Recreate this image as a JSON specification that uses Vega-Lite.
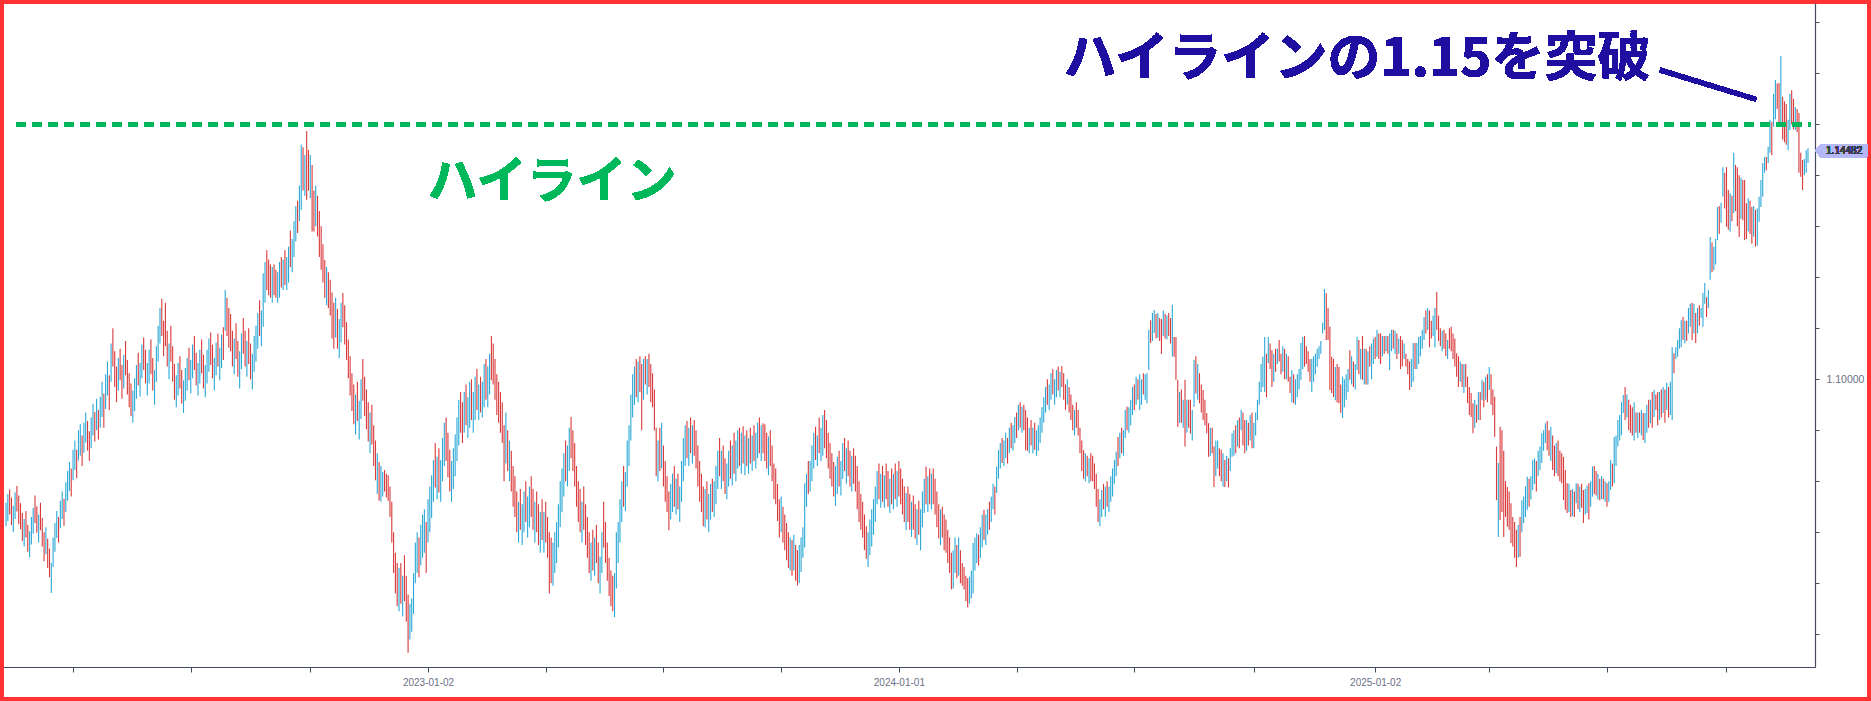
{
"$schema":"https://vega.github.io/schema/vega-lite/v6.json",
"width":1871,"height":701,"autosize":"none","padding":0,"background":"white",
"config":{"view":{"stroke":"#ff3333","strokeWidth":8,"fill":"white"},"axis":{"grid":false}},
"data":{"values":[
{"i":0,"h":1.0758,"l":1.0712,"u":1},{"i":1,"h":1.0775,"l":1.0722,"u":1},{"i":2,"h":1.0784,"l":1.0735,"u":0},{"i":3,"h":1.0768,"l":1.0714,"u":0},{"i":4,"h":1.0752,"l":1.0700,"u":1},{"i":5,"h":1.0778,"l":1.0726,"u":1},{"i":6,"h":1.0791,"l":1.0741,"u":0},{"i":7,"h":1.0772,"l":1.0716,"u":0},{"i":8,"h":1.0757,"l":1.0706,"u":0},{"i":9,"h":1.0738,"l":1.0683,"u":0},
{"i":10,"h":1.0726,"l":1.0672,"u":1},{"i":11,"h":1.0742,"l":1.0690,"u":0},{"i":12,"h":1.0715,"l":1.0662,"u":0},{"i":13,"h":1.0702,"l":1.0651,"u":1},{"i":14,"h":1.0730,"l":1.0676,"u":1},{"i":15,"h":1.0748,"l":1.0697,"u":1},{"i":16,"h":1.0772,"l":1.0718,"u":0},{"i":17,"h":1.0751,"l":1.0699,"u":0},{"i":18,"h":1.0735,"l":1.0680,"u":1},{"i":19,"h":1.0758,"l":1.0704,"u":0},
{"i":20,"h":1.0728,"l":1.0672,"u":0},{"i":21,"h":1.0700,"l":1.0643,"u":0},{"i":22,"h":1.0710,"l":1.0657,"u":1},{"i":23,"h":1.0688,"l":1.0630,"u":0},{"i":24,"h":1.0668,"l":1.0612,"u":0},{"i":25,"h":1.0640,"l":1.0581,"u":1},{"i":26,"h":1.0690,"l":1.0632,"u":1},{"i":27,"h":1.0718,"l":1.0662,"u":1},{"i":28,"h":1.0742,"l":1.0689,"u":1},{"i":29,"h":1.0730,"l":1.0680,"u":0},
{"i":30,"h":1.0762,"l":1.0708,"u":1},{"i":31,"h":1.0780,"l":1.0726,"u":1},{"i":32,"h":1.0766,"l":1.0713,"u":0},{"i":33,"h":1.0798,"l":1.0740,"u":1},{"i":34,"h":1.0820,"l":1.0762,"u":1},{"i":35,"h":1.0838,"l":1.0781,"u":1},{"i":36,"h":1.0825,"l":1.0770,"u":0},{"i":37,"h":1.0862,"l":1.0802,"u":1},{"i":38,"h":1.0880,"l":1.0822,"u":1},{"i":39,"h":1.0862,"l":1.0806,"u":0},
{"i":40,"h":1.0900,"l":1.0841,"u":1},{"i":41,"h":1.0912,"l":1.0850,"u":1},{"i":42,"h":1.0890,"l":1.0830,"u":0},{"i":43,"h":1.0915,"l":1.0856,"u":1},{"i":44,"h":1.0935,"l":1.0876,"u":1},{"i":45,"h":1.0918,"l":1.0860,"u":0},{"i":46,"h":1.0898,"l":1.0840,"u":0},{"i":47,"h":1.0925,"l":1.0865,"u":1},{"i":48,"h":1.0952,"l":1.0890,"u":1},{"i":49,"h":1.0936,"l":1.0878,"u":0},
{"i":50,"h":1.0962,"l":1.0900,"u":1},{"i":51,"h":1.0940,"l":1.0882,"u":0},{"i":52,"h":1.0966,"l":1.0905,"u":1},{"i":53,"h":1.0995,"l":1.0926,"u":1},{"i":54,"h":1.0972,"l":1.0905,"u":0},{"i":55,"h":1.1010,"l":1.0942,"u":1},{"i":56,"h":1.1035,"l":1.0968,"u":1},{"i":57,"h":1.1008,"l":1.0940,"u":0},{"i":58,"h":1.1070,"l":1.0995,"u":1},{"i":59,"h":1.1100,"l":1.1025,"u":0},
{"i":60,"h":1.1055,"l":1.0985,"u":0},{"i":61,"h":1.1025,"l":1.0955,"u":0},{"i":62,"h":1.1042,"l":1.0978,"u":1},{"i":63,"h":1.1060,"l":1.0998,"u":0},{"i":64,"h":1.1028,"l":1.0962,"u":0},{"i":65,"h":1.1048,"l":1.0982,"u":1},{"i":66,"h":1.1075,"l":1.1008,"u":0},{"i":67,"h":1.1038,"l":1.0970,"u":0},{"i":68,"h":1.1012,"l":1.0945,"u":0},{"i":69,"h":1.0992,"l":1.0928,"u":0},
{"i":70,"h":1.0978,"l":1.0915,"u":1},{"i":71,"h":1.1002,"l":1.0938,"u":1},{"i":72,"h":1.1028,"l":1.0962,"u":1},{"i":73,"h":1.1052,"l":1.0988,"u":0},{"i":74,"h":1.1032,"l":1.0966,"u":1},{"i":75,"h":1.1068,"l":1.1002,"u":1},{"i":76,"h":1.1082,"l":1.1018,"u":0},{"i":77,"h":1.1058,"l":1.0992,"u":0},{"i":78,"h":1.1032,"l":1.0968,"u":1},{"i":79,"h":1.1058,"l":1.0992,"u":1},
{"i":80,"h":1.1078,"l":1.1010,"u":0},{"i":81,"h":1.1042,"l":1.0978,"u":0},{"i":82,"h":1.1018,"l":1.0950,"u":1},{"i":83,"h":1.1065,"l":1.0995,"u":1},{"i":84,"h":1.1105,"l":1.1035,"u":1},{"i":85,"h":1.1140,"l":1.1070,"u":1},{"i":86,"h":1.1158,"l":1.1085,"u":0},{"i":87,"h":1.1115,"l":1.1045,"u":0},{"i":88,"h":1.1150,"l":1.1065,"u":0},{"i":89,"h":1.1095,"l":1.1025,"u":0},
{"i":90,"h":1.1070,"l":1.1000,"u":1},{"i":91,"h":1.1105,"l":1.1035,"u":0},{"i":92,"h":1.1065,"l":1.0995,"u":0},{"i":93,"h":1.1030,"l":1.0960,"u":0},{"i":94,"h":1.1008,"l":1.0945,"u":1},{"i":95,"h":1.1032,"l":1.0968,"u":1},{"i":96,"h":1.1045,"l":1.0982,"u":0},{"i":97,"h":1.1018,"l":1.0952,"u":0},{"i":98,"h":1.0998,"l":1.0934,"u":1},{"i":99,"h":1.1022,"l":1.0958,"u":1},
{"i":100,"h":1.1042,"l":1.0978,"u":1},{"i":101,"h":1.1062,"l":1.0998,"u":0},{"i":102,"h":1.1038,"l":1.0972,"u":1},{"i":103,"h":1.1068,"l":1.1002,"u":1},{"i":104,"h":1.1085,"l":1.1018,"u":0},{"i":105,"h":1.1052,"l":1.0988,"u":0},{"i":106,"h":1.1032,"l":1.0968,"u":1},{"i":107,"h":1.1058,"l":1.0992,"u":1},{"i":108,"h":1.1078,"l":1.1012,"u":0},{"i":109,"h":1.1048,"l":1.0982,"u":0},
{"i":110,"h":1.1028,"l":1.0965,"u":1},{"i":111,"h":1.1058,"l":1.0992,"u":1},{"i":112,"h":1.1080,"l":1.1015,"u":1},{"i":113,"h":1.1092,"l":1.1028,"u":0},{"i":114,"h":1.1068,"l":1.1002,"u":0},{"i":115,"h":1.1042,"l":1.0978,"u":1},{"i":116,"h":1.1072,"l":1.1008,"u":1},{"i":117,"h":1.1090,"l":1.1025,"u":0},{"i":118,"h":1.1062,"l":1.0998,"u":1},{"i":119,"h":1.1088,"l":1.1022,"u":1},
{"i":120,"h":1.1102,"l":1.1038,"u":0},{"i":121,"h":1.1175,"l":1.1095,"u":1},{"i":122,"h":1.1160,"l":1.1085,"u":0},{"i":123,"h":1.1140,"l":1.1062,"u":0},{"i":124,"h":1.1128,"l":1.1055,"u":0},{"i":125,"h":1.1095,"l":1.1025,"u":0},{"i":126,"h":1.1080,"l":1.1010,"u":1},{"i":127,"h":1.1110,"l":1.1040,"u":0},{"i":128,"h":1.1075,"l":1.1005,"u":0},{"i":129,"h":1.1055,"l":1.0982,"u":1},
{"i":130,"h":1.1090,"l":1.1020,"u":1},{"i":131,"h":1.1120,"l":1.1050,"u":0},{"i":132,"h":1.1095,"l":1.1025,"u":0},{"i":133,"h":1.1075,"l":1.1005,"u":1},{"i":134,"h":1.1100,"l":1.1030,"u":0},{"i":135,"h":1.1070,"l":1.1000,"u":0},{"i":136,"h":1.1050,"l":1.0980,"u":1},{"i":137,"h":1.1085,"l":1.1015,"u":1},{"i":138,"h":1.1105,"l":1.1035,"u":1},{"i":139,"h":1.1130,"l":1.1060,"u":1},
{"i":140,"h":1.1155,"l":1.1085,"u":0},{"i":141,"h":1.1135,"l":1.1065,"u":1},{"i":142,"h":1.1208,"l":1.1103,"u":1},{"i":143,"h":1.1230,"l":1.1150,"u":1},{"i":144,"h":1.1253,"l":1.1175,"u":0},{"i":145,"h":1.1235,"l":1.1165,"u":0},{"i":146,"h":1.1225,"l":1.1160,"u":0},{"i":147,"h":1.1220,"l":1.1150,"u":1},{"i":148,"h":1.1225,"l":1.1165,"u":0},{"i":149,"h":1.1215,"l":1.1160,"u":0},
{"i":150,"h":1.1210,"l":1.1150,"u":1},{"i":151,"h":1.1230,"l":1.1160,"u":1},{"i":152,"h":1.1240,"l":1.1180,"u":0},{"i":153,"h":1.1235,"l":1.1175,"u":1},{"i":154,"h":1.1253,"l":1.1185,"u":0},{"i":155,"h":1.1240,"l":1.1175,"u":1},{"i":156,"h":1.1260,"l":1.1190,"u":1},{"i":157,"h":1.1292,"l":1.1220,"u":0},{"i":158,"h":1.1275,"l":1.1210,"u":1},{"i":159,"h":1.1310,"l":1.1240,"u":1},
{"i":160,"h":1.1340,"l":1.1270,"u":1},{"i":161,"h":1.1350,"l":1.1287,"u":0},{"i":162,"h":1.1380,"l":1.1310,"u":1},{"i":163,"h":1.1460,"l":1.1332,"u":1},{"i":164,"h":1.1455,"l":1.1370,"u":0},{"i":165,"h":1.1440,"l":1.1360,"u":1},{"i":166,"h":1.1487,"l":1.1352,"u":0},{"i":167,"h":1.1450,"l":1.1370,"u":0},{"i":168,"h":1.1440,"l":1.1355,"u":1},{"i":169,"h":1.1420,"l":1.1290,"u":0},
{"i":170,"h":1.1370,"l":1.1290,"u":0},{"i":171,"h":1.1380,"l":1.1300,"u":1},{"i":172,"h":1.1360,"l":1.1280,"u":0},{"i":173,"h":1.1330,"l":1.1240,"u":0},{"i":174,"h":1.1300,"l":1.1215,"u":0},{"i":175,"h":1.1265,"l":1.1190,"u":0},{"i":176,"h":1.1234,"l":1.1160,"u":0},{"i":177,"h":1.1220,"l":1.1145,"u":1},{"i":178,"h":1.1210,"l":1.1140,"u":0},{"i":179,"h":1.1195,"l":1.1125,"u":0},
{"i":180,"h":1.1170,"l":1.1080,"u":0},{"i":181,"h":1.1150,"l":1.1060,"u":0},{"i":182,"h":1.1160,"l":1.1082,"u":1},{"i":183,"h":1.1138,"l":1.1060,"u":0},{"i":184,"h":1.1118,"l":1.1042,"u":1},{"i":185,"h":1.1150,"l":1.1072,"u":1},{"i":186,"h":1.1169,"l":1.1102,"u":0},{"i":187,"h":1.1145,"l":1.1068,"u":0},{"i":188,"h":1.1112,"l":1.1038,"u":0},{"i":189,"h":1.1078,"l":1.1002,"u":0},
{"i":190,"h":1.1045,"l":1.0968,"u":0},{"i":191,"h":1.1012,"l":1.0938,"u":0},{"i":192,"h":1.0990,"l":1.0912,"u":0},{"i":193,"h":1.0970,"l":1.0892,"u":1},{"i":194,"h":1.0995,"l":1.0918,"u":0},{"i":195,"h":1.0958,"l":1.0882,"u":1},{"i":196,"h":1.1000,"l":1.0922,"u":1},{"i":197,"h":1.1040,"l":1.0958,"u":0},{"i":198,"h":1.1005,"l":1.0928,"u":0},{"i":199,"h":1.0980,"l":1.0902,"u":0},
{"i":200,"h":1.0955,"l":1.0878,"u":0},{"i":201,"h":1.0935,"l":1.0855,"u":1},{"i":202,"h":1.0950,"l":1.0872,"u":0},{"i":203,"h":1.0910,"l":1.0830,"u":0},{"i":204,"h":1.0880,"l":1.0802,"u":0},{"i":205,"h":1.0855,"l":1.0775,"u":1},{"i":206,"h":1.0838,"l":1.0762,"u":0},{"i":207,"h":1.0830,"l":1.0760,"u":1},{"i":208,"h":1.0818,"l":1.0770,"u":1},{"i":209,"h":1.0822,"l":1.0780,"u":0},
{"i":210,"h":1.0815,"l":1.0768,"u":0},{"i":211,"h":1.0812,"l":1.0762,"u":0},{"i":212,"h":1.0790,"l":1.0730,"u":0},{"i":213,"h":1.0760,"l":1.0680,"u":0},{"i":214,"h":1.0700,"l":1.0620,"u":0},{"i":215,"h":1.0660,"l":1.0580,"u":0},{"i":216,"h":1.0640,"l":1.0555,"u":0},{"i":217,"h":1.0630,"l":1.0545,"u":1},{"i":218,"h":1.0640,"l":1.0560,"u":0},{"i":219,"h":1.0615,"l":1.0535,"u":1},
{"i":220,"h":1.0655,"l":1.0565,"u":0},{"i":221,"h":1.0615,"l":1.0525,"u":0},{"i":222,"h":1.0578,"l":1.0464,"u":0},{"i":223,"h":1.0560,"l":1.0490,"u":1},{"i":224,"h":1.0570,"l":1.0505,"u":1},{"i":225,"h":1.0620,"l":1.0540,"u":1},{"i":226,"h":1.0680,"l":1.0600,"u":1},{"i":227,"h":1.0700,"l":1.0620,"u":1},{"i":228,"h":1.0690,"l":1.0612,"u":0},{"i":229,"h":1.0715,"l":1.0635,"u":1},
{"i":230,"h":1.0735,"l":1.0650,"u":1},{"i":231,"h":1.0745,"l":1.0660,"u":1},{"i":232,"h":1.0720,"l":1.0620,"u":0},{"i":233,"h":1.0765,"l":1.0680,"u":1},{"i":234,"h":1.0790,"l":1.0700,"u":1},{"i":235,"h":1.0812,"l":1.0728,"u":1},{"i":236,"h":1.0842,"l":1.0760,"u":1},{"i":237,"h":1.0875,"l":1.0788,"u":0},{"i":238,"h":1.0848,"l":1.0765,"u":1},{"i":239,"h":1.0865,"l":1.0778,"u":0},
{"i":240,"h":1.0842,"l":1.0760,"u":1},{"i":241,"h":1.0885,"l":1.0800,"u":1},{"i":242,"h":1.0915,"l":1.0830,"u":1},{"i":243,"h":1.0925,"l":1.0840,"u":0},{"i":244,"h":1.0895,"l":1.0808,"u":0},{"i":245,"h":1.0862,"l":1.0780,"u":0},{"i":246,"h":1.0840,"l":1.0760,"u":1},{"i":247,"h":1.0865,"l":1.0785,"u":1},{"i":248,"h":1.0892,"l":1.0810,"u":1},{"i":249,"h":1.0925,"l":1.0840,"u":1},
{"i":250,"h":1.0960,"l":1.0870,"u":1},{"i":251,"h":1.0975,"l":1.0895,"u":0},{"i":252,"h":1.0955,"l":1.0875,"u":0},{"i":253,"h":1.0975,"l":1.0895,"u":1},{"i":254,"h":1.0990,"l":1.0910,"u":0},{"i":255,"h":1.0965,"l":1.0885,"u":1},{"i":256,"h":1.0995,"l":1.0905,"u":1},{"i":257,"h":1.1000,"l":1.0920,"u":0},{"i":258,"h":1.0975,"l":1.0895,"u":1},{"i":259,"h":1.1005,"l":1.0920,"u":1},
{"i":260,"h":1.1020,"l":1.0940,"u":0},{"i":261,"h":1.0990,"l":1.0920,"u":1},{"i":262,"h":1.1005,"l":1.0935,"u":0},{"i":263,"h":1.0995,"l":1.0925,"u":1},{"i":264,"h":1.1030,"l":1.0945,"u":1},{"i":265,"h":1.1040,"l":1.0960,"u":0},{"i":266,"h":1.1025,"l":1.0945,"u":1},{"i":267,"h":1.1050,"l":1.0970,"u":1},{"i":268,"h":1.1085,"l":1.0998,"u":0},{"i":269,"h":1.1070,"l":1.0990,"u":0},
{"i":270,"h":1.1040,"l":1.0960,"u":0},{"i":271,"h":1.1010,"l":1.0930,"u":0},{"i":272,"h":1.0995,"l":1.0915,"u":0},{"i":273,"h":1.0975,"l":1.0895,"u":0},{"i":274,"h":1.0955,"l":1.0875,"u":0},{"i":275,"h":1.0910,"l":1.0800,"u":0},{"i":276,"h":1.0935,"l":1.0835,"u":1},{"i":277,"h":1.0900,"l":1.0820,"u":0},{"i":278,"h":1.0880,"l":1.0800,"u":1},{"i":279,"h":1.0860,"l":1.0780,"u":0},
{"i":280,"h":1.0830,"l":1.0750,"u":0},{"i":281,"h":1.0810,"l":1.0730,"u":0},{"i":282,"h":1.0780,"l":1.0700,"u":0},{"i":283,"h":1.0760,"l":1.0680,"u":1},{"i":284,"h":1.0785,"l":1.0705,"u":0},{"i":285,"h":1.0755,"l":1.0675,"u":1},{"i":286,"h":1.0780,"l":1.0700,"u":1},{"i":287,"h":1.0800,"l":1.0720,"u":0},{"i":288,"h":1.0770,"l":1.0690,"u":1},{"i":289,"h":1.0790,"l":1.0710,"u":1},
{"i":290,"h":1.0810,"l":1.0730,"u":0},{"i":291,"h":1.0785,"l":1.0705,"u":0},{"i":292,"h":1.0760,"l":1.0680,"u":1},{"i":293,"h":1.0780,"l":1.0700,"u":0},{"i":294,"h":1.0755,"l":1.0675,"u":0},{"i":295,"h":1.0740,"l":1.0660,"u":1},{"i":296,"h":1.0765,"l":1.0685,"u":0},{"i":297,"h":1.0740,"l":1.0660,"u":1},{"i":298,"h":1.0760,"l":1.0680,"u":0},{"i":299,"h":1.0730,"l":1.0650,"u":0},
{"i":300,"h":1.0700,"l":1.0580,"u":0},{"i":301,"h":1.0690,"l":1.0600,"u":0},{"i":302,"h":1.0680,"l":1.0595,"u":1},{"i":303,"h":1.0700,"l":1.0620,"u":1},{"i":304,"h":1.0720,"l":1.0640,"u":1},{"i":305,"h":1.0755,"l":1.0670,"u":1},{"i":306,"h":1.0800,"l":1.0710,"u":1},{"i":307,"h":1.0825,"l":1.0740,"u":1},{"i":308,"h":1.0855,"l":1.0770,"u":1},{"i":309,"h":1.0880,"l":1.0800,"u":0},
{"i":310,"h":1.0870,"l":1.0790,"u":1},{"i":311,"h":1.0905,"l":1.0820,"u":1},{"i":312,"h":1.0926,"l":1.0845,"u":0},{"i":313,"h":1.0900,"l":1.0820,"u":0},{"i":314,"h":1.0875,"l":1.0790,"u":0},{"i":315,"h":1.0830,"l":1.0750,"u":0},{"i":316,"h":1.0800,"l":1.0720,"u":0},{"i":317,"h":1.0785,"l":1.0700,"u":0},{"i":318,"h":1.0760,"l":1.0680,"u":1},{"i":319,"h":1.0790,"l":1.0705,"u":0},
{"i":320,"h":1.0755,"l":1.0675,"u":0},{"i":321,"h":1.0730,"l":1.0650,"u":0},{"i":322,"h":1.0700,"l":1.0620,"u":0},{"i":323,"h":1.0680,"l":1.0605,"u":1},{"i":324,"h":1.0705,"l":1.0625,"u":0},{"i":325,"h":1.0690,"l":1.0615,"u":1},{"i":326,"h":1.0715,"l":1.0640,"u":0},{"i":327,"h":1.0680,"l":1.0600,"u":0},{"i":328,"h":1.0652,"l":1.0580,"u":1},{"i":329,"h":1.0700,"l":1.0620,"u":1},
{"i":330,"h":1.0760,"l":1.0670,"u":0},{"i":331,"h":1.0720,"l":1.0640,"u":0},{"i":332,"h":1.0680,"l":1.0605,"u":0},{"i":333,"h":1.0650,"l":1.0575,"u":0},{"i":334,"h":1.0625,"l":1.0555,"u":0},{"i":335,"h":1.0615,"l":1.0545,"u":0},{"i":336,"h":1.0620,"l":1.0534,"u":1},{"i":337,"h":1.0700,"l":1.0590,"u":1},{"i":338,"h":1.0720,"l":1.0640,"u":1},{"i":339,"h":1.0765,"l":1.0680,"u":1},
{"i":340,"h":1.0800,"l":1.0720,"u":1},{"i":341,"h":1.0830,"l":1.0750,"u":0},{"i":342,"h":1.0818,"l":1.0742,"u":1},{"i":343,"h":1.0880,"l":1.0790,"u":1},{"i":344,"h":1.0910,"l":1.0830,"u":1},{"i":345,"h":1.0970,"l":1.0880,"u":1},{"i":346,"h":1.1010,"l":1.0925,"u":1},{"i":347,"h":1.1025,"l":1.0950,"u":1},{"i":348,"h":1.1040,"l":1.0965,"u":0},{"i":349,"h":1.1035,"l":1.0955,"u":1},
{"i":350,"h":1.1045,"l":1.0975,"u":0},{"i":351,"h":1.1030,"l":1.0900,"u":0},{"i":352,"h":1.1040,"l":1.0960,"u":1},{"i":353,"h":1.1045,"l":1.0990,"u":0},{"i":354,"h":1.1040,"l":1.0970,"u":1},{"i":355,"h":1.1050,"l":1.0985,"u":0},{"i":356,"h":1.1030,"l":1.0955,"u":0},{"i":357,"h":1.1012,"l":1.0945,"u":0},{"i":358,"h":1.0980,"l":1.0900,"u":0},{"i":359,"h":1.0905,"l":1.0810,"u":0},
{"i":360,"h":1.0880,"l":1.0800,"u":1},{"i":361,"h":1.0905,"l":1.0820,"u":0},{"i":362,"h":1.0915,"l":1.0825,"u":1},{"i":363,"h":1.0870,"l":1.0790,"u":0},{"i":364,"h":1.0840,"l":1.0760,"u":0},{"i":365,"h":1.0810,"l":1.0740,"u":0},{"i":366,"h":1.0780,"l":1.0704,"u":0},{"i":367,"h":1.0795,"l":1.0725,"u":1},{"i":368,"h":1.0815,"l":1.0740,"u":1},{"i":369,"h":1.0830,"l":1.0750,"u":0},
{"i":370,"h":1.0805,"l":1.0735,"u":1},{"i":371,"h":1.0815,"l":1.0745,"u":0},{"i":372,"h":1.0790,"l":1.0720,"u":1},{"i":373,"h":1.0840,"l":1.0760,"u":1},{"i":374,"h":1.0885,"l":1.0800,"u":1},{"i":375,"h":1.0910,"l":1.0830,"u":1},{"i":376,"h":1.0918,"l":1.0845,"u":0},{"i":377,"h":1.0905,"l":1.0830,"u":1},{"i":378,"h":1.0925,"l":1.0855,"u":0},{"i":379,"h":1.0910,"l":1.0835,"u":1},
{"i":380,"h":1.0920,"l":1.0850,"u":0},{"i":381,"h":1.0900,"l":1.0825,"u":0},{"i":382,"h":1.0870,"l":1.0790,"u":0},{"i":383,"h":1.0840,"l":1.0760,"u":0},{"i":384,"h":1.0815,"l":1.0740,"u":0},{"i":385,"h":1.0790,"l":1.0712,"u":0},{"i":386,"h":1.0785,"l":1.0710,"u":1},{"i":387,"h":1.0800,"l":1.0725,"u":0},{"i":388,"h":1.0775,"l":1.0700,"u":1},{"i":389,"h":1.0795,"l":1.0725,"u":1},
{"i":390,"h":1.0805,"l":1.0740,"u":0},{"i":391,"h":1.0800,"l":1.0730,"u":1},{"i":392,"h":1.0830,"l":1.0755,"u":1},{"i":393,"h":1.0860,"l":1.0785,"u":1},{"i":394,"h":1.0885,"l":1.0810,"u":0},{"i":395,"h":1.0860,"l":1.0785,"u":1},{"i":396,"h":1.0870,"l":1.0800,"u":0},{"i":397,"h":1.0845,"l":1.0775,"u":0},{"i":398,"h":1.0835,"l":1.0765,"u":1},{"i":399,"h":1.0860,"l":1.0790,"u":1},
{"i":400,"h":1.0880,"l":1.0805,"u":0},{"i":401,"h":1.0870,"l":1.0792,"u":1},{"i":402,"h":1.0895,"l":1.0815,"u":0},{"i":403,"h":1.0880,"l":1.0800,"u":1},{"i":404,"h":1.0900,"l":1.0825,"u":1},{"i":405,"h":1.0905,"l":1.0830,"u":0},{"i":406,"h":1.0895,"l":1.0815,"u":1},{"i":407,"h":1.0908,"l":1.0835,"u":0},{"i":408,"h":1.0890,"l":1.0812,"u":1},{"i":409,"h":1.0900,"l":1.0830,"u":0},
{"i":410,"h":1.0885,"l":1.0815,"u":1},{"i":411,"h":1.0905,"l":1.0835,"u":0},{"i":412,"h":1.0890,"l":1.0820,"u":1},{"i":413,"h":1.0910,"l":1.0840,"u":0},{"i":414,"h":1.0895,"l":1.0825,"u":1},{"i":415,"h":1.0915,"l":1.0845,"u":1},{"i":416,"h":1.0925,"l":1.0855,"u":0},{"i":417,"h":1.0910,"l":1.0840,"u":1},{"i":418,"h":1.0914,"l":1.0855,"u":0},{"i":419,"h":1.0912,"l":1.0840,"u":0},
{"i":420,"h":1.0895,"l":1.0825,"u":0},{"i":421,"h":1.0888,"l":1.0812,"u":1},{"i":422,"h":1.0900,"l":1.0830,"u":0},{"i":423,"h":1.0870,"l":1.0800,"u":0},{"i":424,"h":1.0835,"l":1.0765,"u":0},{"i":425,"h":1.0825,"l":1.0755,"u":0},{"i":426,"h":1.0795,"l":1.0722,"u":0},{"i":427,"h":1.0765,"l":1.0690,"u":0},{"i":428,"h":1.0770,"l":1.0700,"u":1},{"i":429,"h":1.0750,"l":1.0680,"u":0},
{"i":430,"h":1.0735,"l":1.0665,"u":0},{"i":431,"h":1.0718,"l":1.0645,"u":0},{"i":432,"h":1.0700,"l":1.0630,"u":0},{"i":433,"h":1.0690,"l":1.0625,"u":1},{"i":434,"h":1.0685,"l":1.0615,"u":0},{"i":435,"h":1.0695,"l":1.0625,"u":1},{"i":436,"h":1.0675,"l":1.0605,"u":0},{"i":437,"h":1.0665,"l":1.0596,"u":0},{"i":438,"h":1.0675,"l":1.0600,"u":1},{"i":439,"h":1.0690,"l":1.0622,"u":1},
{"i":440,"h":1.0710,"l":1.0650,"u":1},{"i":441,"h":1.0796,"l":1.0670,"u":1},{"i":442,"h":1.0815,"l":1.0750,"u":1},{"i":443,"h":1.0840,"l":1.0775,"u":0},{"i":444,"h":1.0840,"l":1.0780,"u":1},{"i":445,"h":1.0870,"l":1.0800,"u":1},{"i":446,"h":1.0895,"l":1.0825,"u":1},{"i":447,"h":1.0907,"l":1.0842,"u":0},{"i":448,"h":1.0890,"l":1.0830,"u":1},{"i":449,"h":1.0925,"l":1.0855,"u":0},
{"i":450,"h":1.0905,"l":1.0840,"u":1},{"i":451,"h":1.0930,"l":1.0850,"u":1},{"i":452,"h":1.0940,"l":1.0865,"u":0},{"i":453,"h":1.0920,"l":1.0845,"u":0},{"i":454,"h":1.0895,"l":1.0825,"u":0},{"i":455,"h":1.0875,"l":1.0805,"u":0},{"i":456,"h":1.0855,"l":1.0790,"u":0},{"i":457,"h":1.0838,"l":1.0770,"u":0},{"i":458,"h":1.0830,"l":1.0752,"u":1},{"i":459,"h":1.0848,"l":1.0775,"u":1},
{"i":460,"h":1.0860,"l":1.0790,"u":0},{"i":461,"h":1.0840,"l":1.0772,"u":1},{"i":462,"h":1.0875,"l":1.0805,"u":1},{"i":463,"h":1.0885,"l":1.0820,"u":0},{"i":464,"h":1.0865,"l":1.0795,"u":1},{"i":465,"h":1.0880,"l":1.0810,"u":0},{"i":466,"h":1.0860,"l":1.0790,"u":0},{"i":467,"h":1.0850,"l":1.0780,"u":1},{"i":468,"h":1.0865,"l":1.0795,"u":0},{"i":469,"h":1.0850,"l":1.0780,"u":0},
{"i":470,"h":1.0830,"l":1.0745,"u":0},{"i":471,"h":1.0800,"l":1.0720,"u":0},{"i":472,"h":1.0775,"l":1.0705,"u":0},{"i":473,"h":1.0760,"l":1.0690,"u":0},{"i":474,"h":1.0735,"l":1.0665,"u":0},{"i":475,"h":1.0712,"l":1.0648,"u":0},{"i":476,"h":1.0700,"l":1.0632,"u":1},{"i":477,"h":1.0725,"l":1.0655,"u":1},{"i":478,"h":1.0745,"l":1.0672,"u":1},{"i":479,"h":1.0765,"l":1.0695,"u":1},
{"i":480,"h":1.0790,"l":1.0720,"u":1},{"i":481,"h":1.0820,"l":1.0755,"u":1},{"i":482,"h":1.0835,"l":1.0765,"u":0},{"i":483,"h":1.0815,"l":1.0748,"u":1},{"i":484,"h":1.0830,"l":1.0760,"u":0},{"i":485,"h":1.0812,"l":1.0748,"u":1},{"i":486,"h":1.0835,"l":1.0765,"u":0},{"i":487,"h":1.0820,"l":1.0750,"u":0},{"i":488,"h":1.0805,"l":1.0738,"u":1},{"i":489,"h":1.0825,"l":1.0755,"u":0},
{"i":490,"h":1.0815,"l":1.0745,"u":1},{"i":491,"h":1.0835,"l":1.0765,"u":0},{"i":492,"h":1.0820,"l":1.0750,"u":1},{"i":493,"h":1.0840,"l":1.0770,"u":0},{"i":494,"h":1.0825,"l":1.0755,"u":0},{"i":495,"h":1.0805,"l":1.0735,"u":0},{"i":496,"h":1.0790,"l":1.0720,"u":0},{"i":497,"h":1.0777,"l":1.0704,"u":1},{"i":498,"h":1.0790,"l":1.0720,"u":0},{"i":499,"h":1.0775,"l":1.0705,"u":0},
{"i":500,"h":1.0760,"l":1.0691,"u":1},{"i":501,"h":1.0772,"l":1.0705,"u":0},{"i":502,"h":1.0755,"l":1.0688,"u":0},{"i":503,"h":1.0745,"l":1.0675,"u":1},{"i":504,"h":1.0762,"l":1.0695,"u":0},{"i":505,"h":1.0745,"l":1.0665,"u":1},{"i":506,"h":1.0780,"l":1.0710,"u":1},{"i":507,"h":1.0805,"l":1.0738,"u":1},{"i":508,"h":1.0829,"l":1.0755,"u":0},{"i":509,"h":1.0810,"l":1.0740,"u":1},
{"i":510,"h":1.0825,"l":1.0755,"u":0},{"i":511,"h":1.0815,"l":1.0745,"u":1},{"i":512,"h":1.0825,"l":1.0755,"u":0},{"i":513,"h":1.0805,"l":1.0735,"u":0},{"i":514,"h":1.0780,"l":1.0710,"u":0},{"i":515,"h":1.0755,"l":1.0688,"u":0},{"i":516,"h":1.0745,"l":1.0675,"u":1},{"i":517,"h":1.0750,"l":1.0690,"u":0},{"i":518,"h":1.0735,"l":1.0665,"u":0},{"i":519,"h":1.0725,"l":1.0660,"u":0},
{"i":520,"h":1.0705,"l":1.0640,"u":0},{"i":521,"h":1.0690,"l":1.0620,"u":0},{"i":522,"h":1.0660,"l":1.0588,"u":0},{"i":523,"h":1.0665,"l":1.0590,"u":1},{"i":524,"h":1.0690,"l":1.0620,"u":1},{"i":525,"h":1.0675,"l":1.0610,"u":0},{"i":526,"h":1.0690,"l":1.0615,"u":1},{"i":527,"h":1.0665,"l":1.0600,"u":0},{"i":528,"h":1.0640,"l":1.0595,"u":0},{"i":529,"h":1.0632,"l":1.0588,"u":0},
{"i":530,"h":1.0615,"l":1.0565,"u":0},{"i":531,"h":1.0610,"l":1.0553,"u":0},{"i":532,"h":1.0613,"l":1.0560,"u":1},{"i":533,"h":1.0625,"l":1.0570,"u":1},{"i":534,"h":1.0679,"l":1.0580,"u":1},{"i":535,"h":1.0690,"l":1.0625,"u":1},{"i":536,"h":1.0698,"l":1.0640,"u":1},{"i":537,"h":1.0695,"l":1.0635,"u":0},{"i":538,"h":1.0710,"l":1.0650,"u":1},{"i":539,"h":1.0735,"l":1.0670,"u":1},
{"i":540,"h":1.0744,"l":1.0685,"u":0},{"i":541,"h":1.0735,"l":1.0675,"u":1},{"i":542,"h":1.0745,"l":1.0695,"u":1},{"i":543,"h":1.0760,"l":1.0705,"u":0},{"i":544,"h":1.0770,"l":1.0720,"u":1},{"i":545,"h":1.0795,"l":1.0745,"u":1},{"i":546,"h":1.0790,"l":1.0735,"u":0},{"i":547,"h":1.0829,"l":1.0777,"u":1},{"i":548,"h":1.0861,"l":1.0805,"u":1},{"i":549,"h":1.0875,"l":1.0825,"u":1},
{"i":550,"h":1.0885,"l":1.0836,"u":0},{"i":551,"h":1.0880,"l":1.0830,"u":1},{"i":552,"h":1.0895,"l":1.0845,"u":1},{"i":553,"h":1.0885,"l":1.0835,"u":0},{"i":554,"h":1.0905,"l":1.0855,"u":1},{"i":555,"h":1.0915,"l":1.0865,"u":0},{"i":556,"h":1.0910,"l":1.0860,"u":1},{"i":557,"h":1.0926,"l":1.0875,"u":1},{"i":558,"h":1.0935,"l":1.0885,"u":0},{"i":559,"h":1.0950,"l":1.0900,"u":1},
{"i":560,"h":1.0955,"l":1.0905,"u":0},{"i":561,"h":1.0946,"l":1.0895,"u":1},{"i":562,"h":1.0950,"l":1.0900,"u":0},{"i":563,"h":1.0940,"l":1.0861,"u":0},{"i":564,"h":1.0925,"l":1.0860,"u":0},{"i":565,"h":1.0905,"l":1.0855,"u":1},{"i":566,"h":1.0920,"l":1.0870,"u":0},{"i":567,"h":1.0905,"l":1.0855,"u":1},{"i":568,"h":1.0915,"l":1.0862,"u":0},{"i":569,"h":1.0900,"l":1.0850,"u":1},
{"i":570,"h":1.0910,"l":1.0860,"u":1},{"i":571,"h":1.0925,"l":1.0875,"u":1},{"i":572,"h":1.0945,"l":1.0895,"u":1},{"i":573,"h":1.0965,"l":1.0915,"u":1},{"i":574,"h":1.0985,"l":1.0935,"u":1},{"i":575,"h":1.1000,"l":1.0950,"u":0},{"i":576,"h":1.0990,"l":1.0940,"u":1},{"i":577,"h":1.1012,"l":1.0960,"u":1},{"i":578,"h":1.1020,"l":1.0970,"u":0},{"i":579,"h":1.1000,"l":1.0950,"u":1},
{"i":580,"h":1.1018,"l":1.0965,"u":1},{"i":581,"h":1.1025,"l":1.0978,"u":0},{"i":582,"h":1.1015,"l":1.0965,"u":1},{"i":583,"h":1.1026,"l":1.0985,"u":0},{"i":584,"h":1.1012,"l":1.0960,"u":0},{"i":585,"h":1.0990,"l":1.0940,"u":0},{"i":586,"h":1.1000,"l":1.0950,"u":1},{"i":587,"h":1.0985,"l":1.0935,"u":0},{"i":588,"h":1.0970,"l":1.0920,"u":0},{"i":589,"h":1.0950,"l":1.0900,"u":0},
{"i":590,"h":1.0940,"l":1.0890,"u":1},{"i":591,"h":1.0955,"l":1.0905,"u":0},{"i":592,"h":1.0940,"l":1.0890,"u":0},{"i":593,"h":1.0905,"l":1.0855,"u":0},{"i":594,"h":1.0880,"l":1.0820,"u":0},{"i":595,"h":1.0861,"l":1.0805,"u":0},{"i":596,"h":1.0855,"l":1.0800,"u":1},{"i":597,"h":1.0850,"l":1.0810,"u":0},{"i":598,"h":1.0845,"l":1.0796,"u":1},{"i":599,"h":1.0855,"l":1.0800,"u":0},
{"i":600,"h":1.0850,"l":1.0800,"u":0},{"i":601,"h":1.0835,"l":1.0785,"u":0},{"i":602,"h":1.0815,"l":1.0750,"u":0},{"i":603,"h":1.0785,"l":1.0720,"u":0},{"i":604,"h":1.0765,"l":1.0712,"u":1},{"i":605,"h":1.0783,"l":1.0730,"u":1},{"i":606,"h":1.0795,"l":1.0745,"u":0},{"i":607,"h":1.0790,"l":1.0730,"u":1},{"i":608,"h":1.0800,"l":1.0750,"u":0},{"i":609,"h":1.0790,"l":1.0740,"u":1},
{"i":610,"h":1.0810,"l":1.0760,"u":1},{"i":611,"h":1.0825,"l":1.0770,"u":1},{"i":612,"h":1.0842,"l":1.0795,"u":1},{"i":613,"h":1.0858,"l":1.0810,"u":1},{"i":614,"h":1.0887,"l":1.0830,"u":0},{"i":615,"h":1.0895,"l":1.0845,"u":1},{"i":616,"h":1.0905,"l":1.0855,"u":0},{"i":617,"h":1.0900,"l":1.0850,"u":1},{"i":618,"h":1.0940,"l":1.0885,"u":1},{"i":619,"h":1.0946,"l":1.0900,"u":0},
{"i":620,"h":1.0945,"l":1.0895,"u":1},{"i":621,"h":1.0960,"l":1.0910,"u":1},{"i":622,"h":1.0985,"l":1.0930,"u":1},{"i":623,"h":1.0990,"l":1.0940,"u":0},{"i":624,"h":1.1005,"l":1.0950,"u":1},{"i":625,"h":1.1000,"l":1.0960,"u":0},{"i":626,"h":1.1010,"l":1.0940,"u":1},{"i":627,"h":1.1000,"l":1.0950,"u":1},{"i":628,"h":1.1012,"l":1.0970,"u":0},{"i":629,"h":1.1010,"l":1.0960,"u":1},
{"i":630,"h":1.1012,"l":1.0953,"u":1},{"i":631,"h":1.1097,"l":1.1018,"u":1},{"i":632,"h":1.1116,"l":1.1071,"u":0},{"i":633,"h":1.1130,"l":1.1075,"u":1},{"i":634,"h":1.1136,"l":1.1091,"u":1},{"i":635,"h":1.1128,"l":1.1080,"u":0},{"i":636,"h":1.1130,"l":1.1082,"u":1},{"i":637,"h":1.1120,"l":1.1075,"u":0},{"i":638,"h":1.1118,"l":1.1050,"u":0},{"i":639,"h":1.1135,"l":1.1085,"u":1},
{"i":640,"h":1.1128,"l":1.1080,"u":0},{"i":641,"h":1.1125,"l":1.1078,"u":1},{"i":642,"h":1.1130,"l":1.1085,"u":0},{"i":643,"h":1.1120,"l":1.1070,"u":0},{"i":644,"h":1.1146,"l":1.1044,"u":1},{"i":645,"h":1.1083,"l":1.1044,"u":0},{"i":646,"h":1.1083,"l":1.0999,"u":0},{"i":647,"h":1.0999,"l":1.0907,"u":0},{"i":648,"h":1.0975,"l":1.0915,"u":1},{"i":649,"h":1.0980,"l":1.0915,"u":0},
{"i":650,"h":1.0960,"l":1.0905,"u":1},{"i":651,"h":1.0999,"l":1.0868,"u":0},{"i":652,"h":1.0960,"l":1.0895,"u":1},{"i":653,"h":1.0960,"l":1.0905,"u":0},{"i":654,"h":1.0960,"l":1.0893,"u":0},{"i":655,"h":1.0940,"l":1.0880,"u":1},{"i":656,"h":1.1038,"l":1.0946,"u":1},{"i":657,"h":1.1045,"l":1.0972,"u":0},{"i":658,"h":1.1030,"l":1.0960,"u":1},{"i":659,"h":1.1012,"l":1.0953,"u":0},
{"i":660,"h":1.0990,"l":1.0935,"u":0},{"i":661,"h":1.0979,"l":1.0920,"u":0},{"i":662,"h":1.0960,"l":1.0910,"u":0},{"i":663,"h":1.0934,"l":1.0894,"u":0},{"i":664,"h":1.0914,"l":1.0848,"u":0},{"i":665,"h":1.0905,"l":1.0850,"u":1},{"i":666,"h":1.0905,"l":1.0855,"u":0},{"i":667,"h":1.0868,"l":1.0789,"u":0},{"i":668,"h":1.0880,"l":1.0810,"u":1},{"i":669,"h":1.0880,"l":1.0825,"u":1},
{"i":670,"h":1.0865,"l":1.0810,"u":0},{"i":671,"h":1.0862,"l":1.0800,"u":0},{"i":672,"h":1.0855,"l":1.0790,"u":1},{"i":673,"h":1.0842,"l":1.0789,"u":0},{"i":674,"h":1.0850,"l":1.0800,"u":1},{"i":675,"h":1.0845,"l":1.0788,"u":0},{"i":676,"h":1.0865,"l":1.0820,"u":1},{"i":677,"h":1.0894,"l":1.0848,"u":1},{"i":678,"h":1.0900,"l":1.0850,"u":1},{"i":679,"h":1.0910,"l":1.0855,"u":0},
{"i":680,"h":1.0920,"l":1.0868,"u":1},{"i":681,"h":1.0925,"l":1.0865,"u":0},{"i":682,"h":1.0940,"l":1.0900,"u":1},{"i":683,"h":1.0935,"l":1.0870,"u":0},{"i":684,"h":1.0920,"l":1.0855,"u":0},{"i":685,"h":1.0920,"l":1.0860,"u":1},{"i":686,"h":1.0915,"l":1.0870,"u":0},{"i":687,"h":1.0930,"l":1.0880,"u":1},{"i":688,"h":1.0935,"l":1.0865,"u":0},{"i":689,"h":1.0915,"l":1.0865,"u":1},
{"i":690,"h":1.0935,"l":1.0890,"u":1},{"i":691,"h":1.0960,"l":1.0920,"u":1},{"i":692,"h":1.0995,"l":1.0950,"u":1},{"i":693,"h":1.1030,"l":1.0975,"u":1},{"i":694,"h":1.1044,"l":1.0985,"u":1},{"i":695,"h":1.1083,"l":1.0975,"u":1},{"i":696,"h":1.1050,"l":1.0965,"u":0},{"i":697,"h":1.1083,"l":1.1032,"u":1},{"i":698,"h":1.1070,"l":1.1020,"u":0},{"i":699,"h":1.1057,"l":1.0985,"u":0},
{"i":700,"h":1.1050,"l":1.0995,"u":1},{"i":701,"h":1.1060,"l":1.1015,"u":0},{"i":702,"h":1.1060,"l":1.1030,"u":1},{"i":703,"h":1.1077,"l":1.1035,"u":0},{"i":704,"h":1.1050,"l":1.1010,"u":0},{"i":705,"h":1.1065,"l":1.1015,"u":1},{"i":706,"h":1.1060,"l":1.1000,"u":0},{"i":707,"h":1.1050,"l":1.1000,"u":1},{"i":708,"h":1.1045,"l":1.0995,"u":0},{"i":709,"h":1.1005,"l":1.0973,"u":0},
{"i":710,"h":1.1018,"l":1.0955,"u":1},{"i":711,"h":1.1010,"l":1.0953,"u":0},{"i":712,"h":1.1000,"l":1.0950,"u":1},{"i":713,"h":1.1010,"l":1.0965,"u":1},{"i":714,"h":1.1020,"l":1.0980,"u":1},{"i":715,"h":1.1071,"l":1.0999,"u":1},{"i":716,"h":1.1083,"l":1.1020,"u":1},{"i":717,"h":1.1085,"l":1.1025,"u":0},{"i":718,"h":1.1065,"l":1.1030,"u":0},{"i":719,"h":1.1055,"l":1.1015,"u":0},
{"i":720,"h":1.1040,"l":1.0995,"u":0},{"i":721,"h":1.1040,"l":1.0975,"u":1},{"i":722,"h":1.1045,"l":1.0995,"u":1},{"i":723,"h":1.1050,"l":1.1010,"u":1},{"i":724,"h":1.1060,"l":1.1025,"u":1},{"i":725,"h":1.1065,"l":1.1040,"u":1},{"i":726,"h":1.1075,"l":1.1050,"u":1},{"i":727,"h":1.1111,"l":1.1090,"u":1},{"i":728,"h":1.1177,"l":1.1097,"u":1},{"i":729,"h":1.1169,"l":1.1077,"u":0},
{"i":730,"h":1.1140,"l":1.1077,"u":0},{"i":731,"h":1.1103,"l":1.0979,"u":0},{"i":732,"h":1.1044,"l":1.0973,"u":0},{"i":733,"h":1.1040,"l":1.0965,"u":0},{"i":734,"h":1.1024,"l":1.0959,"u":1},{"i":735,"h":1.1030,"l":1.0955,"u":0},{"i":736,"h":1.1024,"l":1.0953,"u":0},{"i":737,"h":1.0990,"l":1.0934,"u":0},{"i":738,"h":1.1005,"l":1.0924,"u":1},{"i":739,"h":1.1000,"l":1.0945,"u":1},
{"i":740,"h":1.1010,"l":1.0960,"u":1},{"i":741,"h":1.1020,"l":1.0975,"u":1},{"i":742,"h":1.1057,"l":1.0999,"u":0},{"i":743,"h":1.1045,"l":1.0990,"u":1},{"i":744,"h":1.1035,"l":1.0985,"u":0},{"i":745,"h":1.1030,"l":1.0980,"u":1},{"i":746,"h":1.1083,"l":1.1018,"u":1},{"i":747,"h":1.1077,"l":1.1010,"u":0},{"i":748,"h":1.1060,"l":1.1000,"u":1},{"i":749,"h":1.1085,"l":1.0999,"u":0},
{"i":750,"h":1.1060,"l":1.0990,"u":1},{"i":751,"h":1.1060,"l":1.0990,"u":0},{"i":752,"h":1.1055,"l":1.0990,"u":1},{"i":753,"h":1.1065,"l":1.1025,"u":0},{"i":754,"h":1.1070,"l":1.1000,"u":1},{"i":755,"h":1.1080,"l":1.1030,"u":1},{"i":756,"h":1.1083,"l":1.1040,"u":0},{"i":757,"h":1.1097,"l":1.1044,"u":1},{"i":758,"h":1.1090,"l":1.1040,"u":0},{"i":759,"h":1.1090,"l":1.1030,"u":0},
{"i":760,"h":1.1085,"l":1.1045,"u":1},{"i":761,"h":1.1085,"l":1.1050,"u":0},{"i":762,"h":1.1085,"l":1.1055,"u":1},{"i":763,"h":1.1085,"l":1.1050,"u":0},{"i":764,"h":1.1090,"l":1.1018,"u":1},{"i":765,"h":1.1097,"l":1.1055,"u":1},{"i":766,"h":1.1097,"l":1.1060,"u":0},{"i":767,"h":1.1095,"l":1.1050,"u":1},{"i":768,"h":1.1090,"l":1.1040,"u":0},{"i":769,"h":1.1080,"l":1.1050,"u":1},
{"i":770,"h":1.1085,"l":1.1020,"u":0},{"i":771,"h":1.1077,"l":1.1025,"u":0},{"i":772,"h":1.1070,"l":1.1040,"u":1},{"i":773,"h":1.1050,"l":1.1025,"u":0},{"i":774,"h":1.1040,"l":1.1010,"u":0},{"i":775,"h":1.1035,"l":1.0979,"u":0},{"i":776,"h":1.1040,"l":1.0985,"u":1},{"i":777,"h":1.1071,"l":1.0995,"u":1},{"i":778,"h":1.1071,"l":1.1020,"u":0},{"i":779,"h":1.1071,"l":1.1020,"u":1},
{"i":780,"h":1.1083,"l":1.1030,"u":1},{"i":781,"h":1.1085,"l":1.1045,"u":1},{"i":782,"h":1.1097,"l":1.1060,"u":1},{"i":783,"h":1.1122,"l":1.1077,"u":1},{"i":784,"h":1.1135,"l":1.1090,"u":0},{"i":785,"h":1.1140,"l":1.1097,"u":1},{"i":786,"h":1.1135,"l":1.1063,"u":0},{"i":787,"h":1.1115,"l":1.1080,"u":0},{"i":788,"h":1.1125,"l":1.1085,"u":1},{"i":789,"h":1.1140,"l":1.1063,"u":1},
{"i":790,"h":1.1171,"l":1.1097,"u":0},{"i":791,"h":1.1125,"l":1.1075,"u":0},{"i":792,"h":1.1100,"l":1.1065,"u":0},{"i":793,"h":1.1095,"l":1.1055,"u":1},{"i":794,"h":1.1097,"l":1.1060,"u":0},{"i":795,"h":1.1090,"l":1.1045,"u":0},{"i":796,"h":1.1077,"l":1.1040,"u":1},{"i":797,"h":1.1100,"l":1.1060,"u":0},{"i":798,"h":1.1103,"l":1.1055,"u":0},{"i":799,"h":1.1090,"l":1.1040,"u":0},
{"i":800,"h":1.1080,"l":1.1025,"u":0},{"i":801,"h":1.1051,"l":1.1005,"u":0},{"i":802,"h":1.1045,"l":1.0985,"u":0},{"i":803,"h":1.1035,"l":1.0995,"u":1},{"i":804,"h":1.1030,"l":1.0985,"u":0},{"i":805,"h":1.1030,"l":1.0973,"u":1},{"i":806,"h":1.1030,"l":1.0985,"u":0},{"i":807,"h":1.1005,"l":1.0953,"u":0},{"i":808,"h":1.0985,"l":1.0930,"u":0},{"i":809,"h":1.0973,"l":1.0926,"u":0},
{"i":810,"h":1.0953,"l":1.0894,"u":0},{"i":811,"h":1.0960,"l":1.0905,"u":1},{"i":812,"h":1.0950,"l":1.0915,"u":0},{"i":813,"h":1.0975,"l":1.0920,"u":1},{"i":814,"h":1.0975,"l":1.0920,"u":0},{"i":815,"h":1.0999,"l":1.0959,"u":1},{"i":816,"h":1.0995,"l":1.0945,"u":0},{"i":817,"h":1.1005,"l":1.0960,"u":1},{"i":818,"h":1.1010,"l":1.0955,"u":0},{"i":819,"h":1.1024,"l":1.0979,"u":1},
{"i":820,"h":1.1010,"l":1.0950,"u":0},{"i":821,"h":1.0980,"l":1.0930,"u":0},{"i":822,"h":1.0966,"l":1.0887,"u":0},{"i":823,"h":1.0868,"l":1.0763,"u":0},{"i":824,"h":1.0836,"l":1.0691,"u":1},{"i":825,"h":1.0907,"l":1.0724,"u":0},{"i":826,"h":1.0900,"l":1.0740,"u":0},{"i":827,"h":1.0860,"l":1.0691,"u":0},{"i":828,"h":1.0800,"l":1.0730,"u":0},{"i":829,"h":1.0789,"l":1.0711,"u":0},
{"i":830,"h":1.0780,"l":1.0705,"u":0},{"i":831,"h":1.0757,"l":1.0679,"u":0},{"i":832,"h":1.0730,"l":1.0672,"u":0},{"i":833,"h":1.0720,"l":1.0650,"u":0},{"i":834,"h":1.0705,"l":1.0632,"u":0},{"i":835,"h":1.0715,"l":1.0650,"u":1},{"i":836,"h":1.0730,"l":1.0652,"u":0},{"i":837,"h":1.0763,"l":1.0700,"u":1},{"i":838,"h":1.0770,"l":1.0718,"u":1},{"i":839,"h":1.0790,"l":1.0730,"u":1},
{"i":840,"h":1.0809,"l":1.0744,"u":1},{"i":841,"h":1.0805,"l":1.0750,"u":0},{"i":842,"h":1.0810,"l":1.0765,"u":1},{"i":843,"h":1.0842,"l":1.0783,"u":1},{"i":844,"h":1.0845,"l":1.0795,"u":1},{"i":845,"h":1.0840,"l":1.0780,"u":0},{"i":846,"h":1.0860,"l":1.0810,"u":1},{"i":847,"h":1.0868,"l":1.0822,"u":1},{"i":848,"h":1.0894,"l":1.0836,"u":1},{"i":849,"h":1.0900,"l":1.0860,"u":1},
{"i":850,"h":1.0914,"l":1.0875,"u":1},{"i":851,"h":1.0918,"l":1.0861,"u":0},{"i":852,"h":1.0900,"l":1.0850,"u":0},{"i":853,"h":1.0907,"l":1.0840,"u":1},{"i":854,"h":1.0890,"l":1.0822,"u":0},{"i":855,"h":1.0870,"l":1.0810,"u":0},{"i":856,"h":1.0875,"l":1.0816,"u":1},{"i":857,"h":1.0880,"l":1.0810,"u":0},{"i":858,"h":1.0860,"l":1.0800,"u":0},{"i":859,"h":1.0855,"l":1.0796,"u":0},
{"i":860,"h":1.0848,"l":1.0763,"u":0},{"i":861,"h":1.0822,"l":1.0744,"u":0},{"i":862,"h":1.0796,"l":1.0738,"u":0},{"i":863,"h":1.0795,"l":1.0740,"u":1},{"i":864,"h":1.0783,"l":1.0730,"u":0},{"i":865,"h":1.0785,"l":1.0732,"u":1},{"i":866,"h":1.0780,"l":1.0730,"u":0},{"i":867,"h":1.0796,"l":1.0757,"u":1},{"i":868,"h":1.0795,"l":1.0745,"u":0},{"i":869,"h":1.0790,"l":1.0740,"u":1},
{"i":870,"h":1.0795,"l":1.0748,"u":0},{"i":871,"h":1.0783,"l":1.0718,"u":0},{"i":872,"h":1.0785,"l":1.0735,"u":1},{"i":873,"h":1.0792,"l":1.0738,"u":1},{"i":874,"h":1.0796,"l":1.0725,"u":0},{"i":875,"h":1.0800,"l":1.0750,"u":1},{"i":876,"h":1.0829,"l":1.0770,"u":1},{"i":877,"h":1.0830,"l":1.0775,"u":0},{"i":878,"h":1.0820,"l":1.0772,"u":0},{"i":879,"h":1.0815,"l":1.0765,"u":1},
{"i":880,"h":1.0805,"l":1.0763,"u":0},{"i":881,"h":1.0810,"l":1.0765,"u":1},{"i":882,"h":1.0805,"l":1.0765,"u":0},{"i":883,"h":1.0800,"l":1.0760,"u":1},{"i":884,"h":1.0796,"l":1.0750,"u":0},{"i":885,"h":1.0800,"l":1.0760,"u":1},{"i":886,"h":1.0842,"l":1.0783,"u":1},{"i":887,"h":1.0835,"l":1.0790,"u":0},{"i":888,"h":1.0887,"l":1.0796,"u":1},{"i":889,"h":1.0890,"l":1.0830,"u":1},
{"i":890,"h":1.0920,"l":1.0868,"u":1},{"i":891,"h":1.0930,"l":1.0880,"u":1},{"i":892,"h":1.0955,"l":1.0890,"u":1},{"i":893,"h":1.0969,"l":1.0934,"u":1},{"i":894,"h":1.0985,"l":1.0920,"u":0},{"i":895,"h":1.0970,"l":1.0925,"u":1},{"i":896,"h":1.0960,"l":1.0900,"u":0},{"i":897,"h":1.0950,"l":1.0895,"u":0},{"i":898,"h":1.0945,"l":1.0890,"u":0},{"i":899,"h":1.0955,"l":1.0880,"u":1},
{"i":900,"h":1.0935,"l":1.0895,"u":0},{"i":901,"h":1.0935,"l":1.0885,"u":1},{"i":902,"h":1.0935,"l":1.0895,"u":0},{"i":903,"h":1.0940,"l":1.0890,"u":1},{"i":904,"h":1.0934,"l":1.0881,"u":0},{"i":905,"h":1.0934,"l":1.0875,"u":1},{"i":906,"h":1.0950,"l":1.0895,"u":1},{"i":907,"h":1.0960,"l":1.0905,"u":0},{"i":908,"h":1.0960,"l":1.0914,"u":1},{"i":909,"h":1.0975,"l":1.0905,"u":0},
{"i":910,"h":1.0979,"l":1.0926,"u":1},{"i":911,"h":1.0970,"l":1.0940,"u":0},{"i":912,"h":1.0975,"l":1.0910,"u":0},{"i":913,"h":1.0975,"l":1.0920,"u":1},{"i":914,"h":1.0980,"l":1.0925,"u":0},{"i":915,"h":1.0985,"l":1.0934,"u":1},{"i":916,"h":1.0980,"l":1.0915,"u":0},{"i":917,"h":1.0993,"l":1.0940,"u":1},{"i":918,"h":1.0985,"l":1.0925,"u":0},{"i":919,"h":1.0995,"l":1.0930,"u":1},
{"i":920,"h":1.1063,"l":1.0920,"u":1},{"i":921,"h":1.1051,"l":1.1012,"u":0},{"i":922,"h":1.1063,"l":1.1040,"u":1},{"i":923,"h":1.1077,"l":1.1044,"u":1},{"i":924,"h":1.1100,"l":1.1060,"u":1},{"i":925,"h":1.1116,"l":1.1063,"u":1},{"i":926,"h":1.1122,"l":1.1077,"u":0},{"i":927,"h":1.1115,"l":1.1070,"u":1},{"i":928,"h":1.1115,"l":1.1075,"u":0},{"i":929,"h":1.1140,"l":1.1090,"u":1},
{"i":930,"h":1.1148,"l":1.1103,"u":1},{"i":931,"h":1.1150,"l":1.1077,"u":0},{"i":932,"h":1.1148,"l":1.1090,"u":1},{"i":933,"h":1.1130,"l":1.1071,"u":0},{"i":934,"h":1.1140,"l":1.1090,"u":1},{"i":935,"h":1.1145,"l":1.1105,"u":0},{"i":936,"h":1.1140,"l":1.1120,"u":1},{"i":937,"h":1.1169,"l":1.1103,"u":1},{"i":938,"h":1.1189,"l":1.1148,"u":1},{"i":939,"h":1.1161,"l":1.1122,"u":0},
{"i":940,"h":1.1175,"l":1.1140,"u":1},{"i":941,"h":1.1279,"l":1.1195,"u":1},{"i":942,"h":1.1268,"l":1.1210,"u":0},{"i":943,"h":1.1260,"l":1.1214,"u":1},{"i":944,"h":1.1275,"l":1.1225,"u":1},{"i":945,"h":1.1338,"l":1.1273,"u":1},{"i":946,"h":1.1340,"l":1.1285,"u":0},{"i":947,"h":1.1346,"l":1.1307,"u":1},{"i":948,"h":1.1416,"l":1.1358,"u":1},{"i":949,"h":1.1405,"l":1.1335,"u":0},
{"i":950,"h":1.1416,"l":1.1299,"u":0},{"i":951,"h":1.1371,"l":1.1293,"u":0},{"i":952,"h":1.1365,"l":1.1290,"u":1},{"i":953,"h":1.1360,"l":1.1310,"u":0},{"i":954,"h":1.1444,"l":1.1326,"u":1},{"i":955,"h":1.1420,"l":1.1330,"u":0},{"i":956,"h":1.1416,"l":1.1300,"u":0},{"i":957,"h":1.1400,"l":1.1279,"u":0},{"i":958,"h":1.1395,"l":1.1315,"u":1},{"i":959,"h":1.1391,"l":1.1312,"u":0},
{"i":960,"h":1.1391,"l":1.1273,"u":0},{"i":961,"h":1.1345,"l":1.1275,"u":0},{"i":962,"h":1.1355,"l":1.1290,"u":1},{"i":963,"h":1.1350,"l":1.1285,"u":0},{"i":964,"h":1.1338,"l":1.1266,"u":0},{"i":965,"h":1.1340,"l":1.1280,"u":1},{"i":966,"h":1.1332,"l":1.1260,"u":0},{"i":967,"h":1.1335,"l":1.1262,"u":1},{"i":968,"h":1.1358,"l":1.1309,"u":1},{"i":969,"h":1.1391,"l":1.1338,"u":1},
{"i":970,"h":1.1424,"l":1.1358,"u":1},{"i":971,"h":1.1436,"l":1.1405,"u":1},{"i":972,"h":1.1436,"l":1.1410,"u":0},{"i":973,"h":1.1456,"l":1.1424,"u":1},{"i":974,"h":1.1509,"l":1.1444,"u":1},{"i":975,"h":1.1505,"l":1.1440,"u":0},{"i":976,"h":1.1560,"l":1.1495,"u":1},{"i":977,"h":1.1587,"l":1.1510,"u":1},{"i":978,"h":1.1580,"l":1.1530,"u":0},{"i":979,"h":1.1581,"l":1.1495,"u":0},
{"i":980,"h":1.1634,"l":1.1503,"u":1},{"i":981,"h":1.1554,"l":1.1470,"u":0},{"i":982,"h":1.1545,"l":1.1465,"u":0},{"i":983,"h":1.1540,"l":1.1460,"u":0},{"i":984,"h":1.1509,"l":1.1449,"u":1},{"i":985,"h":1.1560,"l":1.1489,"u":1},{"i":986,"h":1.1567,"l":1.1500,"u":0},{"i":987,"h":1.1550,"l":1.1490,"u":0},{"i":988,"h":1.1534,"l":1.1489,"u":1},{"i":989,"h":1.1530,"l":1.1485,"u":0},
{"i":990,"h":1.1522,"l":1.1405,"u":0},{"i":991,"h":1.1444,"l":1.1397,"u":0},{"i":992,"h":1.1430,"l":1.1371,"u":0},{"i":993,"h":1.1432,"l":1.1400,"u":1},{"i":994,"h":1.1449,"l":1.1405,"u":1},{"i":995,"h":1.1453,"l":1.1424,"u":1}
]},
"layer":[
{"mark":{"type":"rule","strokeWidth":1.1},
 "encoding":{
  "x":{"field":"i","type":"quantitative","scale":{"domain":[-1.679,998.87],"range":[3,1815],"nice":false,"zero":false},
   "axis":{"orient":"bottom","offset":-34,"title":null,"values":[37,102,168,233,298,363,428,493,558,623,689,756,819,884,950],
    "labelExpr":"datum.value==233?'2023-01-02':datum.value==493?'2024-01-01':datum.value==756?'2025-01-02':''",
    "labelOverlap":false,"labelFlush":false,"domainColor":"#444b60","domainWidth":1.2,"tickColor":"#444b60","tickSize":5,"tickWidth":1,
    "labelFont":"Liberation Sans","labelFontSize":10,"labelColor":"#6b7186","labelPadding":5,"grid":false}},
  "y":{"field":"l","type":"quantitative","scale":{"domain":[1.043588,1.173784],"range":[667,3],"nice":false,"zero":false},
   "axis":{"orient":"right","offset":-56,"title":null,"values":[1.05,1.06,1.07,1.08,1.09,1.1,1.11,1.12,1.13,1.14,1.15,1.16,1.17],
    "labelExpr":"abs(datum.value-1.1)<0.0001?'1.10000':''",
    "labelOverlap":false,"labelFlush":false,"domainColor":"#444b60","domainWidth":1.2,"tickColor":"#444b60","tickSize":4,"tickWidth":1,
    "labelFont":"Liberation Sans","labelFontSize":10.5,"labelColor":"#6b7186","labelPadding":7,"grid":false}},
  "y2":{"field":"h"},
  "color":{"field":"u","type":"nominal","scale":{"domain":[1,0],"range":["#2aa8d6","#d9393b"]},"legend":null}
 }},
{"mark":{"type":"rule","color":"#00b85c","strokeWidth":4,"strokeDash":[10,6]},
 "encoding":{"x":{"datum":5.5},"x2":{"datum":996.3},"y":{"datum":1.15}}},
{"mark":{"type":"rule","color":"#1e0fa0","strokeWidth":4.5},
 "encoding":{"x":{"datum":913.3},"y":{"datum":1.16065},"x2":{"datum":966.3},"y2":{"datum":1.1549}}},
{"mark":{"type":"text","text":"ハイラインの1.15を突破","font":"Noto Sans CJK JP","fontWeight":"bold","fontSize":53,"color":"#1e0fa0","align":"center","baseline":"middle"},
 "encoding":{"x":{"datum":746},"y":{"datum":1.1627}}},
{"mark":{"type":"text","text":"ハイライン","font":"Noto Sans CJK JP","fontWeight":"bold","fontSize":50,"color":"#00b85c","align":"center","baseline":"middle"},
 "encoding":{"x":{"datum":301.5},"y":{"datum":1.1385}}},
{"mark":{"type":"point","shape":"M0,0L0.9,-1L8,-1L8,1L0.9,1Z","size":169,"filled":true,"color":"#b4b8f7","opacity":1,"strokeWidth":0},
 "encoding":{"x":{"datum":998.9},"y":{"datum":1.14482}}},
{"mark":{"type":"text","text":"1.14482","font":"Liberation Sans","fontSize":10,"color":"#3a3e4a","align":"left","baseline":"middle","dx":11},
 "encoding":{"x":{"datum":998.9},"y":{"datum":1.14482}}}
]
}
